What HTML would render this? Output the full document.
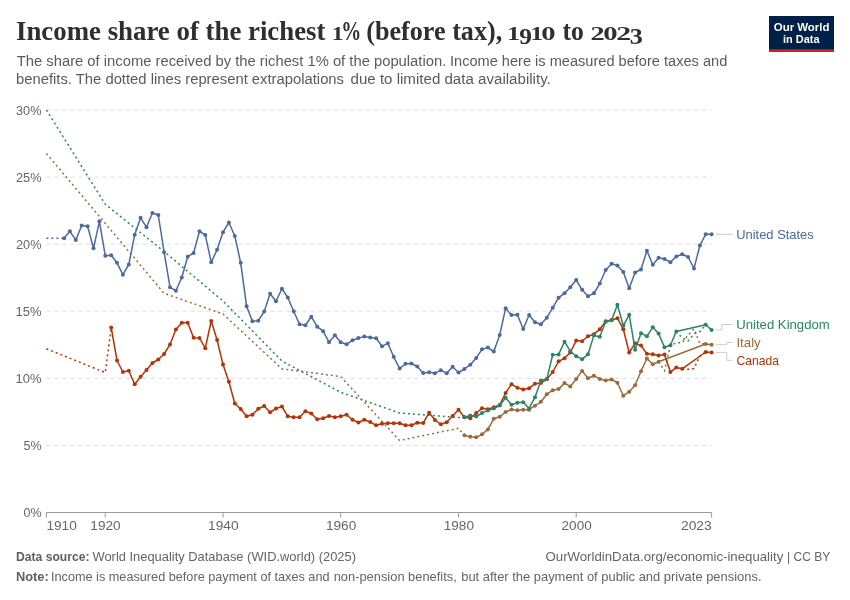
<!DOCTYPE html>
<html lang="en"><head><meta charset="utf-8"><title>Income share of the richest 1% (before tax), 1910 to 2023</title>
<style>html,body{margin:0;padding:0;background:#fff}svg{display:block}</style></head>
<body>
<svg width="850" height="600" viewBox="0 0 850 600">
<rect width="850" height="600" fill="#fff"/>
<text id="t0" x="16.00" y="40.2" font-size="26.4" fill="#2f2f2f" font-family="Liberation Serif, serif" font-weight="bold" textLength="309.50" lengthAdjust="spacingAndGlyphs">Income share of the richest</text>
<text id="t1" x="331.75" y="40.2" font-size="19.0" fill="#2f2f2f" font-family="Liberation Serif, serif" font-weight="bold" textLength="11.79" lengthAdjust="spacingAndGlyphs">1</text>
<text id="t2" x="341.37" y="40.2" font-size="26.4" fill="#2f2f2f" font-family="Liberation Serif, serif" font-weight="bold" textLength="20.00" lengthAdjust="spacingAndGlyphs">%</text>
<text id="t3" x="366.23" y="40.2" font-size="26.4" fill="#2f2f2f" font-family="Liberation Serif, serif" font-weight="bold" textLength="136.03" lengthAdjust="spacingAndGlyphs">(before tax),</text>
<text id="t4" x="506.99" y="40.2" font-size="19.0" fill="#2f2f2f" font-family="Liberation Serif, serif" font-weight="bold" textLength="13.12" lengthAdjust="spacingAndGlyphs">1</text>
<text id="t5" x="519.16" y="43.8" font-size="22.5" fill="#2f2f2f" font-family="Liberation Serif, serif" font-weight="bold" textLength="12.69" lengthAdjust="spacingAndGlyphs">9</text>
<text id="t6" x="530.24" y="40.2" font-size="19.0" fill="#2f2f2f" font-family="Liberation Serif, serif" font-weight="bold" textLength="12.90" lengthAdjust="spacingAndGlyphs">1</text>
<text id="t7" x="541.35" y="40.2" font-size="19.0" fill="#2f2f2f" font-family="Liberation Serif, serif" font-weight="bold" textLength="14.29" lengthAdjust="spacingAndGlyphs">0</text>
<text id="t8" x="562.48" y="40.2" font-size="26.4" fill="#2f2f2f" font-family="Liberation Serif, serif" font-weight="bold" textLength="21.34" lengthAdjust="spacingAndGlyphs">to</text>
<text id="t9" x="590.54" y="40.2" font-size="19.0" fill="#2f2f2f" font-family="Liberation Serif, serif" font-weight="bold" textLength="14.16" lengthAdjust="spacingAndGlyphs">2</text>
<text id="t10" x="603.32" y="40.2" font-size="19.0" fill="#2f2f2f" font-family="Liberation Serif, serif" font-weight="bold" textLength="14.34" lengthAdjust="spacingAndGlyphs">0</text>
<text id="t11" x="616.30" y="40.2" font-size="19.0" fill="#2f2f2f" font-family="Liberation Serif, serif" font-weight="bold" textLength="14.95" lengthAdjust="spacingAndGlyphs">2</text>
<text id="t12" x="629.84" y="43.8" font-size="22.5" fill="#2f2f2f" font-family="Liberation Serif, serif" font-weight="bold" textLength="13.05" lengthAdjust="spacingAndGlyphs">3</text>
<text id="t13" x="16.75" y="66.3" font-size="14" fill="#5b5b5b" font-family="Liberation Sans, sans-serif" textLength="429.51" lengthAdjust="spacingAndGlyphs">The share of income received by the richest 1% of the population.</text>
<text id="t14" x="449.99" y="66.3" font-size="14" fill="#5b5b5b" font-family="Liberation Sans, sans-serif" textLength="277.27" lengthAdjust="spacingAndGlyphs">Income here is measured before taxes and</text>
<text id="t15" x="16.00" y="84.3" font-size="14" fill="#5b5b5b" font-family="Liberation Sans, sans-serif" textLength="328.01" lengthAdjust="spacingAndGlyphs">benefits. The dotted lines represent extrapolations</text>
<text id="t16" x="350.50" y="84.3" font-size="14" fill="#5b5b5b" font-family="Liberation Sans, sans-serif" textLength="200.27" lengthAdjust="spacingAndGlyphs">due to limited data availability.</text>
<rect x="769" y="16" width="65" height="36" fill="#002147"/><rect x="769" y="49.3" width="65" height="2.7" fill="#ce261e"/>
<text id="t17" x="773.74" y="30.7" font-size="11.6" fill="#fff" font-family="Liberation Sans, sans-serif" font-weight="bold" textLength="55.77" lengthAdjust="spacingAndGlyphs">Our World</text>
<text id="t18" x="782.99" y="42.8" font-size="11.6" fill="#fff" font-family="Liberation Sans, sans-serif" font-weight="bold" textLength="36.51" lengthAdjust="spacingAndGlyphs">in Data</text>
<line x1="46.4" x2="711.6" y1="445.4" y2="445.4" stroke="#ddd" stroke-width="1" stroke-dasharray="4.4,3.6"/>
<line x1="46.4" x2="711.6" y1="378.3" y2="378.3" stroke="#ddd" stroke-width="1" stroke-dasharray="4.4,3.6"/>
<line x1="46.4" x2="711.6" y1="311.2" y2="311.2" stroke="#ddd" stroke-width="1" stroke-dasharray="4.4,3.6"/>
<line x1="46.4" x2="711.6" y1="244.2" y2="244.2" stroke="#ddd" stroke-width="1" stroke-dasharray="4.4,3.6"/>
<line x1="46.4" x2="711.6" y1="177.1" y2="177.1" stroke="#ddd" stroke-width="1" stroke-dasharray="4.4,3.6"/>
<line x1="46.4" x2="711.6" y1="110.0" y2="110.0" stroke="#ddd" stroke-width="1" stroke-dasharray="4.4,3.6"/>
<text id="t19" x="23.47" y="517.1" font-size="13.2" fill="#666" font-family="Liberation Sans, sans-serif" textLength="18.06" lengthAdjust="spacingAndGlyphs">0%</text>
<text id="t20" x="23.47" y="450.1" font-size="13.2" fill="#666" font-family="Liberation Sans, sans-serif" textLength="18.06" lengthAdjust="spacingAndGlyphs">5%</text>
<text id="t21" x="15.43" y="383.0" font-size="13.2" fill="#666" font-family="Liberation Sans, sans-serif" textLength="26.10" lengthAdjust="spacingAndGlyphs">10%</text>
<text id="t22" x="15.43" y="315.9" font-size="13.2" fill="#666" font-family="Liberation Sans, sans-serif" textLength="26.10" lengthAdjust="spacingAndGlyphs">15%</text>
<text id="t23" x="15.98" y="248.8" font-size="13.2" fill="#666" font-family="Liberation Sans, sans-serif" textLength="25.54" lengthAdjust="spacingAndGlyphs">20%</text>
<text id="t24" x="15.98" y="181.7" font-size="13.2" fill="#666" font-family="Liberation Sans, sans-serif" textLength="25.54" lengthAdjust="spacingAndGlyphs">25%</text>
<text id="t25" x="15.98" y="114.6" font-size="13.2" fill="#666" font-family="Liberation Sans, sans-serif" textLength="25.54" lengthAdjust="spacingAndGlyphs">30%</text>
<line x1="46.4" x2="711.6" y1="512.5" y2="512.5" stroke="#999" stroke-width="1"/>
<line x1="46.4" x2="46.4" y1="512.5" y2="517.5" stroke="#999" stroke-width="1"/>
<text id="t26" x="46.45" y="529.8" font-size="13.2" fill="#666" font-family="Liberation Sans, sans-serif" textLength="30.33" lengthAdjust="spacingAndGlyphs">1910</text>
<line x1="105.3" x2="105.3" y1="512.5" y2="517.5" stroke="#999" stroke-width="1"/>
<text id="t27" x="90.30" y="529.8" font-size="13.2" fill="#666" font-family="Liberation Sans, sans-serif" textLength="30.32" lengthAdjust="spacingAndGlyphs">1920</text>
<line x1="223.0" x2="223.0" y1="512.5" y2="517.5" stroke="#999" stroke-width="1"/>
<text id="t28" x="207.99" y="529.8" font-size="13.2" fill="#666" font-family="Liberation Sans, sans-serif" textLength="30.59" lengthAdjust="spacingAndGlyphs">1940</text>
<line x1="340.7" x2="340.7" y1="512.5" y2="517.5" stroke="#999" stroke-width="1"/>
<text id="t29" x="325.95" y="529.8" font-size="13.2" fill="#666" font-family="Liberation Sans, sans-serif" textLength="30.32" lengthAdjust="spacingAndGlyphs">1960</text>
<line x1="458.5" x2="458.5" y1="512.5" y2="517.5" stroke="#999" stroke-width="1"/>
<text id="t30" x="443.65" y="529.8" font-size="13.2" fill="#666" font-family="Liberation Sans, sans-serif" textLength="30.32" lengthAdjust="spacingAndGlyphs">1980</text>
<line x1="576.2" x2="576.2" y1="512.5" y2="517.5" stroke="#999" stroke-width="1"/>
<text id="t31" x="561.62" y="529.8" font-size="13.2" fill="#666" font-family="Liberation Sans, sans-serif" textLength="30.05" lengthAdjust="spacingAndGlyphs">2000</text>
<line x1="711.6" x2="711.6" y1="512.5" y2="517.5" stroke="#999" stroke-width="1"/>
<text id="t32" x="680.98" y="529.8" font-size="13.2" fill="#666" font-family="Liberation Sans, sans-serif" textLength="30.80" lengthAdjust="spacingAndGlyphs">2023</text>
<path d="M46.4,110.0 L105.3,204.3 L164.1,251.5 L223.0,301.0 L281.9,361.0 L340.7,392.3 L399.6,413.0 L458.5,417.5 L464.4,417.2" fill="none" stroke="#2C8465" stroke-width="1.5" stroke-dasharray="2,3"/>
<path d="M46.4,153.5 L164.1,293.3 L223.0,314.0 L281.9,368.8 L340.7,376.6 L399.6,440.5 L458.5,428.3 L464.4,435.3" fill="none" stroke="#996D39" stroke-width="1.5" stroke-dasharray="2,3"/>
<path d="M46.4,348.7 L105.3,372.6 L111.2,327.5" fill="none" stroke="#B13507" stroke-width="1.5" stroke-dasharray="2,3"/>
<path d="M46.4,238.3 L64.1,238.3" fill="none" stroke="#4C6A9C" stroke-width="1.5" stroke-dasharray="2,3"/>
<path d="M676.3,331.4 L682.2,338.0 L688.1,340.9 L694.0,334.0 L699.9,331.6 L705.7,324.7" fill="none" stroke="#2C8465" stroke-width="1.5" stroke-dasharray="2,3"/>
<path d="M658.6,361.7 L664.5,370.7 L670.4,345.5 L676.3,342.7 L682.2,342.7 L688.1,335.0 L694.0,329.0 L699.9,343.5 L705.7,344.0" fill="none" stroke="#996D39" stroke-width="1.5" stroke-dasharray="2,3"/>
<path d="M682.2,368.8 L688.1,369.3 L694.0,368.5 L699.9,356.0 L705.7,352.0" fill="none" stroke="#B13507" stroke-width="1.5" stroke-dasharray="2,3"/>
<path d="M64.1,238.3 L69.9,231.3 L75.8,240.0 L81.7,225.5 L87.6,226.2 L93.5,248.3 L99.4,221.3 L105.3,255.8 L111.2,255.3 L117.0,262.8 L122.9,274.7 L128.8,264.5 L134.7,234.7 L140.6,217.8 L146.5,227.2 L152.4,213.0 L158.3,215.0 L164.1,252.2 L170.0,287.2 L175.9,290.8 L181.8,277.5 L187.7,256.7 L193.6,253.0 L199.5,231.3 L205.3,235.0 L211.2,262.2 L217.1,249.7 L223.0,232.2 L228.9,222.5 L234.8,236.0 L240.7,262.8 L246.6,306.3 L252.4,321.2 L258.3,320.7 L264.2,311.5 L270.1,293.7 L276.0,301.3 L281.9,288.7 L287.8,297.5 L293.7,311.3 L299.5,324.3 L305.4,325.2 L311.3,316.7 L317.2,326.7 L323.1,331.2 L329.0,342.2 L334.9,335.3 L340.7,342.2 L346.6,344.3 L352.5,340.3 L358.4,338.1 L364.3,336.4 L370.2,337.5 L376.1,338.3 L382.0,346.3 L387.8,343.3 L393.7,356.8 L399.6,368.5 L405.5,363.8 L411.4,363.5 L417.3,366.5 L423.2,373.0 L429.1,372.3 L434.9,373.3 L440.8,370.2 L446.7,373.3 L452.6,366.7 L458.5,372.5 L464.4,369.0 L470.3,364.7 L476.2,357.9 L482.0,349.3 L487.9,347.6 L493.8,351.5 L499.7,335.0 L505.6,308.3 L511.5,315.0 L517.4,314.7 L523.2,329.0 L529.1,315.0 L535.0,322.3 L540.9,324.2 L546.8,317.7 L552.7,307.8 L558.6,297.7 L564.5,293.3 L570.3,287.3 L576.2,280.0 L582.1,289.8 L588.0,296.2 L593.9,293.3 L599.8,283.5 L605.7,270.0 L611.6,263.7 L617.4,265.5 L623.3,272.0 L629.2,288.3 L635.1,272.5 L641.0,269.5 L646.9,250.7 L652.8,264.7 L658.6,257.8 L664.5,259.0 L670.4,262.2 L676.3,256.5 L682.2,254.2 L688.1,257.0 L694.0,268.5 L699.9,245.5 L705.7,234.2 L711.6,234.3" fill="none" stroke="#4C6A9C" stroke-width="1.5" stroke-linejoin="round" stroke-linecap="butt"/>
<g fill="#4C6A9C"><circle cx="64.1" cy="238.3" r="2"/><circle cx="69.9" cy="231.3" r="2"/><circle cx="75.8" cy="240.0" r="2"/><circle cx="81.7" cy="225.5" r="2"/><circle cx="87.6" cy="226.2" r="2"/><circle cx="93.5" cy="248.3" r="2"/><circle cx="99.4" cy="221.3" r="2"/><circle cx="105.3" cy="255.8" r="2"/><circle cx="111.2" cy="255.3" r="2"/><circle cx="117.0" cy="262.8" r="2"/><circle cx="122.9" cy="274.7" r="2"/><circle cx="128.8" cy="264.5" r="2"/><circle cx="134.7" cy="234.7" r="2"/><circle cx="140.6" cy="217.8" r="2"/><circle cx="146.5" cy="227.2" r="2"/><circle cx="152.4" cy="213.0" r="2"/><circle cx="158.3" cy="215.0" r="2"/><circle cx="164.1" cy="252.2" r="2"/><circle cx="170.0" cy="287.2" r="2"/><circle cx="175.9" cy="290.8" r="2"/><circle cx="181.8" cy="277.5" r="2"/><circle cx="187.7" cy="256.7" r="2"/><circle cx="193.6" cy="253.0" r="2"/><circle cx="199.5" cy="231.3" r="2"/><circle cx="205.3" cy="235.0" r="2"/><circle cx="211.2" cy="262.2" r="2"/><circle cx="217.1" cy="249.7" r="2"/><circle cx="223.0" cy="232.2" r="2"/><circle cx="228.9" cy="222.5" r="2"/><circle cx="234.8" cy="236.0" r="2"/><circle cx="240.7" cy="262.8" r="2"/><circle cx="246.6" cy="306.3" r="2"/><circle cx="252.4" cy="321.2" r="2"/><circle cx="258.3" cy="320.7" r="2"/><circle cx="264.2" cy="311.5" r="2"/><circle cx="270.1" cy="293.7" r="2"/><circle cx="276.0" cy="301.3" r="2"/><circle cx="281.9" cy="288.7" r="2"/><circle cx="287.8" cy="297.5" r="2"/><circle cx="293.7" cy="311.3" r="2"/><circle cx="299.5" cy="324.3" r="2"/><circle cx="305.4" cy="325.2" r="2"/><circle cx="311.3" cy="316.7" r="2"/><circle cx="317.2" cy="326.7" r="2"/><circle cx="323.1" cy="331.2" r="2"/><circle cx="329.0" cy="342.2" r="2"/><circle cx="334.9" cy="335.3" r="2"/><circle cx="340.7" cy="342.2" r="2"/><circle cx="346.6" cy="344.3" r="2"/><circle cx="352.5" cy="340.3" r="2"/><circle cx="358.4" cy="338.1" r="2"/><circle cx="364.3" cy="336.4" r="2"/><circle cx="370.2" cy="337.5" r="2"/><circle cx="376.1" cy="338.3" r="2"/><circle cx="382.0" cy="346.3" r="2"/><circle cx="387.8" cy="343.3" r="2"/><circle cx="393.7" cy="356.8" r="2"/><circle cx="399.6" cy="368.5" r="2"/><circle cx="405.5" cy="363.8" r="2"/><circle cx="411.4" cy="363.5" r="2"/><circle cx="417.3" cy="366.5" r="2"/><circle cx="423.2" cy="373.0" r="2"/><circle cx="429.1" cy="372.3" r="2"/><circle cx="434.9" cy="373.3" r="2"/><circle cx="440.8" cy="370.2" r="2"/><circle cx="446.7" cy="373.3" r="2"/><circle cx="452.6" cy="366.7" r="2"/><circle cx="458.5" cy="372.5" r="2"/><circle cx="464.4" cy="369.0" r="2"/><circle cx="470.3" cy="364.7" r="2"/><circle cx="476.2" cy="357.9" r="2"/><circle cx="482.0" cy="349.3" r="2"/><circle cx="487.9" cy="347.6" r="2"/><circle cx="493.8" cy="351.5" r="2"/><circle cx="499.7" cy="335.0" r="2"/><circle cx="505.6" cy="308.3" r="2"/><circle cx="511.5" cy="315.0" r="2"/><circle cx="517.4" cy="314.7" r="2"/><circle cx="523.2" cy="329.0" r="2"/><circle cx="529.1" cy="315.0" r="2"/><circle cx="535.0" cy="322.3" r="2"/><circle cx="540.9" cy="324.2" r="2"/><circle cx="546.8" cy="317.7" r="2"/><circle cx="552.7" cy="307.8" r="2"/><circle cx="558.6" cy="297.7" r="2"/><circle cx="564.5" cy="293.3" r="2"/><circle cx="570.3" cy="287.3" r="2"/><circle cx="576.2" cy="280.0" r="2"/><circle cx="582.1" cy="289.8" r="2"/><circle cx="588.0" cy="296.2" r="2"/><circle cx="593.9" cy="293.3" r="2"/><circle cx="599.8" cy="283.5" r="2"/><circle cx="605.7" cy="270.0" r="2"/><circle cx="611.6" cy="263.7" r="2"/><circle cx="617.4" cy="265.5" r="2"/><circle cx="623.3" cy="272.0" r="2"/><circle cx="629.2" cy="288.3" r="2"/><circle cx="635.1" cy="272.5" r="2"/><circle cx="641.0" cy="269.5" r="2"/><circle cx="646.9" cy="250.7" r="2"/><circle cx="652.8" cy="264.7" r="2"/><circle cx="658.6" cy="257.8" r="2"/><circle cx="664.5" cy="259.0" r="2"/><circle cx="670.4" cy="262.2" r="2"/><circle cx="676.3" cy="256.5" r="2"/><circle cx="682.2" cy="254.2" r="2"/><circle cx="688.1" cy="257.0" r="2"/><circle cx="694.0" cy="268.5" r="2"/><circle cx="699.9" cy="245.5" r="2"/><circle cx="705.7" cy="234.2" r="2"/><circle cx="711.6" cy="234.3" r="2"/></g>
<path d="M464.4,435.3 L470.3,436.8 L476.2,437.3 L482.0,434.3 L487.9,429.4 L493.8,418.8 L499.7,416.8 L505.6,412.0 L511.5,409.5 L517.4,410.3 L523.2,409.7 L529.1,409.7 L535.0,405.7 L540.9,401.8 L546.8,394.2 L552.7,390.3 L558.6,389.1 L564.5,383.1 L570.3,386.5 L576.2,379.0 L582.1,370.9 L588.0,378.2 L593.9,375.7 L599.8,379.0 L605.7,380.4 L611.6,379.5 L617.4,382.7 L623.3,395.8 L629.2,391.7 L635.1,385.3 L641.0,371.2 L646.9,358.5 L652.8,364.3 L658.6,361.7 L705.7,344.0 L711.6,344.7" fill="none" stroke="#996D39" stroke-width="1.5" stroke-linejoin="round" stroke-linecap="butt"/>
<g fill="#996D39"><circle cx="464.4" cy="435.3" r="2"/><circle cx="470.3" cy="436.8" r="2"/><circle cx="476.2" cy="437.3" r="2"/><circle cx="482.0" cy="434.3" r="2"/><circle cx="487.9" cy="429.4" r="2"/><circle cx="493.8" cy="418.8" r="2"/><circle cx="499.7" cy="416.8" r="2"/><circle cx="505.6" cy="412.0" r="2"/><circle cx="511.5" cy="409.5" r="2"/><circle cx="517.4" cy="410.3" r="2"/><circle cx="523.2" cy="409.7" r="2"/><circle cx="529.1" cy="409.7" r="2"/><circle cx="535.0" cy="405.7" r="2"/><circle cx="540.9" cy="401.8" r="2"/><circle cx="546.8" cy="394.2" r="2"/><circle cx="552.7" cy="390.3" r="2"/><circle cx="558.6" cy="389.1" r="2"/><circle cx="564.5" cy="383.1" r="2"/><circle cx="570.3" cy="386.5" r="2"/><circle cx="576.2" cy="379.0" r="2"/><circle cx="582.1" cy="370.9" r="2"/><circle cx="588.0" cy="378.2" r="2"/><circle cx="593.9" cy="375.7" r="2"/><circle cx="599.8" cy="379.0" r="2"/><circle cx="605.7" cy="380.4" r="2"/><circle cx="611.6" cy="379.5" r="2"/><circle cx="617.4" cy="382.7" r="2"/><circle cx="623.3" cy="395.8" r="2"/><circle cx="629.2" cy="391.7" r="2"/><circle cx="635.1" cy="385.3" r="2"/><circle cx="641.0" cy="371.2" r="2"/><circle cx="646.9" cy="358.5" r="2"/><circle cx="652.8" cy="364.3" r="2"/><circle cx="658.6" cy="361.7" r="2"/><circle cx="705.7" cy="344.0" r="2"/><circle cx="711.6" cy="344.7" r="2"/></g>
<path d="M111.2,327.5 L117.0,360.5 L122.9,372.0 L128.8,370.8 L134.7,384.2 L140.6,376.7 L146.5,370.0 L152.4,363.0 L158.3,359.5 L164.1,354.0 L170.0,344.4 L175.9,329.4 L181.8,322.7 L187.7,322.8 L193.6,337.8 L199.5,338.0 L205.3,348.2 L211.2,321.0 L217.1,340.0 L223.0,364.5 L228.9,381.8 L234.8,403.5 L240.7,409.0 L246.6,416.3 L252.4,414.7 L258.3,408.8 L264.2,406.0 L270.1,412.3 L276.0,408.5 L281.9,406.5 L287.8,416.3 L293.7,417.3 L299.5,417.2 L305.4,411.3 L311.3,413.5 L317.2,419.3 L323.1,418.2 L329.0,416.0 L334.9,417.3 L340.7,416.2 L346.6,414.8 L352.5,419.8 L358.4,422.5 L364.3,419.7 L370.2,422.0 L376.1,425.3 L382.0,423.8 L387.8,423.3 L393.7,423.3 L399.6,423.2 L405.5,425.3 L411.4,425.3 L417.3,422.8 L423.2,423.0 L429.1,412.8 L434.9,420.0 L440.8,424.3 L446.7,422.3 L452.6,416.0 L458.5,409.7 L464.4,417.2 L470.3,418.3 L476.2,413.0 L482.0,408.3 L487.9,409.3 L493.8,407.3 L499.7,405.0 L505.6,393.0 L511.5,384.3 L517.4,387.7 L523.2,389.5 L529.1,388.3 L535.0,383.7 L540.9,383.0 L546.8,379.2 L552.7,372.0 L558.6,361.3 L564.5,358.3 L570.3,352.5 L576.2,340.6 L582.1,341.2 L588.0,336.2 L593.9,334.2 L599.8,329.3 L605.7,321.2 L611.6,320.0 L617.4,318.2 L623.3,329.2 L629.2,352.5 L635.1,343.3 L641.0,345.6 L646.9,353.7 L652.8,354.3 L658.6,355.6 L664.5,354.4 L670.4,372.1 L676.3,367.4 L682.2,368.8 L705.7,352.0 L711.6,352.4" fill="none" stroke="#B13507" stroke-width="1.5" stroke-linejoin="round" stroke-linecap="butt"/>
<g fill="#B13507"><circle cx="111.2" cy="327.5" r="2"/><circle cx="117.0" cy="360.5" r="2"/><circle cx="122.9" cy="372.0" r="2"/><circle cx="128.8" cy="370.8" r="2"/><circle cx="134.7" cy="384.2" r="2"/><circle cx="140.6" cy="376.7" r="2"/><circle cx="146.5" cy="370.0" r="2"/><circle cx="152.4" cy="363.0" r="2"/><circle cx="158.3" cy="359.5" r="2"/><circle cx="164.1" cy="354.0" r="2"/><circle cx="170.0" cy="344.4" r="2"/><circle cx="175.9" cy="329.4" r="2"/><circle cx="181.8" cy="322.7" r="2"/><circle cx="187.7" cy="322.8" r="2"/><circle cx="193.6" cy="337.8" r="2"/><circle cx="199.5" cy="338.0" r="2"/><circle cx="205.3" cy="348.2" r="2"/><circle cx="211.2" cy="321.0" r="2"/><circle cx="217.1" cy="340.0" r="2"/><circle cx="223.0" cy="364.5" r="2"/><circle cx="228.9" cy="381.8" r="2"/><circle cx="234.8" cy="403.5" r="2"/><circle cx="240.7" cy="409.0" r="2"/><circle cx="246.6" cy="416.3" r="2"/><circle cx="252.4" cy="414.7" r="2"/><circle cx="258.3" cy="408.8" r="2"/><circle cx="264.2" cy="406.0" r="2"/><circle cx="270.1" cy="412.3" r="2"/><circle cx="276.0" cy="408.5" r="2"/><circle cx="281.9" cy="406.5" r="2"/><circle cx="287.8" cy="416.3" r="2"/><circle cx="293.7" cy="417.3" r="2"/><circle cx="299.5" cy="417.2" r="2"/><circle cx="305.4" cy="411.3" r="2"/><circle cx="311.3" cy="413.5" r="2"/><circle cx="317.2" cy="419.3" r="2"/><circle cx="323.1" cy="418.2" r="2"/><circle cx="329.0" cy="416.0" r="2"/><circle cx="334.9" cy="417.3" r="2"/><circle cx="340.7" cy="416.2" r="2"/><circle cx="346.6" cy="414.8" r="2"/><circle cx="352.5" cy="419.8" r="2"/><circle cx="358.4" cy="422.5" r="2"/><circle cx="364.3" cy="419.7" r="2"/><circle cx="370.2" cy="422.0" r="2"/><circle cx="376.1" cy="425.3" r="2"/><circle cx="382.0" cy="423.8" r="2"/><circle cx="387.8" cy="423.3" r="2"/><circle cx="393.7" cy="423.3" r="2"/><circle cx="399.6" cy="423.2" r="2"/><circle cx="405.5" cy="425.3" r="2"/><circle cx="411.4" cy="425.3" r="2"/><circle cx="417.3" cy="422.8" r="2"/><circle cx="423.2" cy="423.0" r="2"/><circle cx="429.1" cy="412.8" r="2"/><circle cx="434.9" cy="420.0" r="2"/><circle cx="440.8" cy="424.3" r="2"/><circle cx="446.7" cy="422.3" r="2"/><circle cx="452.6" cy="416.0" r="2"/><circle cx="458.5" cy="409.7" r="2"/><circle cx="464.4" cy="417.2" r="2"/><circle cx="470.3" cy="418.3" r="2"/><circle cx="476.2" cy="413.0" r="2"/><circle cx="482.0" cy="408.3" r="2"/><circle cx="487.9" cy="409.3" r="2"/><circle cx="493.8" cy="407.3" r="2"/><circle cx="499.7" cy="405.0" r="2"/><circle cx="505.6" cy="393.0" r="2"/><circle cx="511.5" cy="384.3" r="2"/><circle cx="517.4" cy="387.7" r="2"/><circle cx="523.2" cy="389.5" r="2"/><circle cx="529.1" cy="388.3" r="2"/><circle cx="535.0" cy="383.7" r="2"/><circle cx="540.9" cy="383.0" r="2"/><circle cx="546.8" cy="379.2" r="2"/><circle cx="552.7" cy="372.0" r="2"/><circle cx="558.6" cy="361.3" r="2"/><circle cx="564.5" cy="358.3" r="2"/><circle cx="570.3" cy="352.5" r="2"/><circle cx="576.2" cy="340.6" r="2"/><circle cx="582.1" cy="341.2" r="2"/><circle cx="588.0" cy="336.2" r="2"/><circle cx="593.9" cy="334.2" r="2"/><circle cx="599.8" cy="329.3" r="2"/><circle cx="605.7" cy="321.2" r="2"/><circle cx="611.6" cy="320.0" r="2"/><circle cx="617.4" cy="318.2" r="2"/><circle cx="623.3" cy="329.2" r="2"/><circle cx="629.2" cy="352.5" r="2"/><circle cx="635.1" cy="343.3" r="2"/><circle cx="641.0" cy="345.6" r="2"/><circle cx="646.9" cy="353.7" r="2"/><circle cx="652.8" cy="354.3" r="2"/><circle cx="658.6" cy="355.6" r="2"/><circle cx="664.5" cy="354.4" r="2"/><circle cx="670.4" cy="372.1" r="2"/><circle cx="676.3" cy="367.4" r="2"/><circle cx="682.2" cy="368.8" r="2"/><circle cx="705.7" cy="352.0" r="2"/><circle cx="711.6" cy="352.4" r="2"/></g>
<path d="M464.4,417.2 L470.3,415.5 L476.2,416.5 L482.0,413.0 L487.9,410.4 L493.8,408.5 L499.7,405.5 L505.6,397.8 L511.5,404.7 L517.4,402.8 L523.2,402.2 L529.1,408.5 L535.0,397.2 L540.9,380.5 L546.8,379.1 L552.7,354.7 L558.6,354.4 L564.5,341.7 L570.3,351.2 L576.2,356.2 L582.1,359.2 L588.0,354.3 L593.9,335.4 L599.8,336.7 L605.7,321.7 L611.6,320.3 L617.4,304.7 L623.3,325.8 L629.2,314.7 L635.1,349.8 L641.0,333.3 L646.9,336.2 L652.8,327.3 L658.6,333.6 L664.5,347.3 L670.4,345.3 L676.3,331.4 L705.7,324.7 L711.6,330.0" fill="none" stroke="#2C8465" stroke-width="1.5" stroke-linejoin="round" stroke-linecap="butt"/>
<g fill="#2C8465"><circle cx="464.4" cy="417.2" r="2"/><circle cx="470.3" cy="415.5" r="2"/><circle cx="476.2" cy="416.5" r="2"/><circle cx="482.0" cy="413.0" r="2"/><circle cx="487.9" cy="410.4" r="2"/><circle cx="493.8" cy="408.5" r="2"/><circle cx="499.7" cy="405.5" r="2"/><circle cx="505.6" cy="397.8" r="2"/><circle cx="511.5" cy="404.7" r="2"/><circle cx="517.4" cy="402.8" r="2"/><circle cx="523.2" cy="402.2" r="2"/><circle cx="529.1" cy="408.5" r="2"/><circle cx="535.0" cy="397.2" r="2"/><circle cx="540.9" cy="380.5" r="2"/><circle cx="546.8" cy="379.1" r="2"/><circle cx="552.7" cy="354.7" r="2"/><circle cx="558.6" cy="354.4" r="2"/><circle cx="564.5" cy="341.7" r="2"/><circle cx="570.3" cy="351.2" r="2"/><circle cx="576.2" cy="356.2" r="2"/><circle cx="582.1" cy="359.2" r="2"/><circle cx="588.0" cy="354.3" r="2"/><circle cx="593.9" cy="335.4" r="2"/><circle cx="599.8" cy="336.7" r="2"/><circle cx="605.7" cy="321.7" r="2"/><circle cx="611.6" cy="320.3" r="2"/><circle cx="617.4" cy="304.7" r="2"/><circle cx="623.3" cy="325.8" r="2"/><circle cx="629.2" cy="314.7" r="2"/><circle cx="635.1" cy="349.8" r="2"/><circle cx="641.0" cy="333.3" r="2"/><circle cx="646.9" cy="336.2" r="2"/><circle cx="652.8" cy="327.3" r="2"/><circle cx="658.6" cy="333.6" r="2"/><circle cx="664.5" cy="347.3" r="2"/><circle cx="670.4" cy="345.3" r="2"/><circle cx="676.3" cy="331.4" r="2"/><circle cx="705.7" cy="324.7" r="2"/><circle cx="711.6" cy="330.0" r="2"/></g>
<g fill="none" stroke="#ccc" stroke-width="1"><path d="M715.8,234.3 H732.6"/><path d="M715.8,330 H721.7 V324.5 H732.6"/><path d="M715.8,344.7 H726.8 V342.5 H732.6"/><path d="M715.8,352.4 H726.8 V360.3 H732.6"/></g>
<text id="t33" x="736.23" y="238.7" font-size="13" fill="#4C6A9C" font-family="Liberation Sans, sans-serif" textLength="77.53" lengthAdjust="spacingAndGlyphs">United States</text>
<text id="t34" x="736.23" y="328.7" font-size="13" fill="#2C8465" font-family="Liberation Sans, sans-serif" textLength="93.53" lengthAdjust="spacingAndGlyphs">United Kingdom</text>
<text id="t35" x="736.43" y="346.9" font-size="13" fill="#996D39" font-family="Liberation Sans, sans-serif" textLength="24.32" lengthAdjust="spacingAndGlyphs">Italy</text>
<text id="t36" x="736.49" y="365.2" font-size="13" fill="#B13507" font-family="Liberation Sans, sans-serif" textLength="42.51" lengthAdjust="spacingAndGlyphs">Canada</text>
<text id="t37" x="15.98" y="560.6" font-size="13" fill="#606060" font-family="Liberation Sans, sans-serif" font-weight="bold" textLength="73.54" lengthAdjust="spacingAndGlyphs">Data source:</text>
<text id="t38" x="92.50" y="560.6" font-size="13" fill="#646464" font-family="Liberation Sans, sans-serif" textLength="263.50" lengthAdjust="spacingAndGlyphs">World Inequality Database (WID.world) (2025)</text>
<text id="t39" x="545.50" y="560.6" font-size="13" fill="#646464" font-family="Liberation Sans, sans-serif" textLength="237.75" lengthAdjust="spacingAndGlyphs">OurWorldinData.org/economic-inequality</text>
<text id="t40" x="786.96" y="560.6" font-size="13" fill="#646464" font-family="Liberation Sans, sans-serif" textLength="43.30" lengthAdjust="spacingAndGlyphs">| CC BY</text>
<text id="t41" x="15.95" y="580.5" font-size="13" fill="#606060" font-family="Liberation Sans, sans-serif" font-weight="bold" textLength="32.87" lengthAdjust="spacingAndGlyphs">Note:</text>
<text id="t42" x="50.99" y="580.5" font-size="13" fill="#646464" font-family="Liberation Sans, sans-serif" textLength="278.51" lengthAdjust="spacingAndGlyphs">Income is measured before payment of taxes and</text>
<text id="t43" x="333.73" y="580.5" font-size="13" fill="#646464" font-family="Liberation Sans, sans-serif" textLength="123.03" lengthAdjust="spacingAndGlyphs">non-pension benefits,</text>
<text id="t44" x="461.24" y="580.5" font-size="13" fill="#646464" font-family="Liberation Sans, sans-serif" textLength="300.26" lengthAdjust="spacingAndGlyphs">but after the payment of public and private pensions.</text>
</svg>
</body></html>
